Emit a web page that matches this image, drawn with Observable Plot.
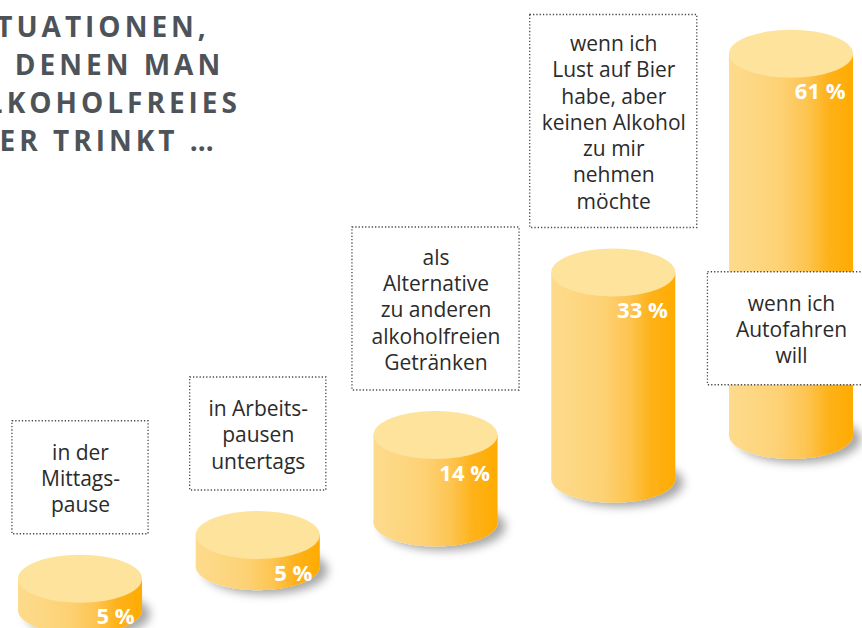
<!DOCTYPE html>
<html><head><meta charset="utf-8">
<script src="https://cdn.jsdelivr.net/npm/d3@7"></script>
<script src="https://cdn.jsdelivr.net/npm/@observablehq/plot@0.6"></script>
<style>
body{margin:0;background:#fff;}
#chart{width:862px;height:628px;overflow:hidden;}
</style></head><body><div id="chart"></div>
<script>
// ---- data ----
const situations = [
  "in der\nMittags-\npause",
  "in Arbeits-\npausen\nuntertags",
  "als\nAlternative\nzu anderen\nalkoholfreien\nGetränken",
  "wenn ich\nLust auf Bier\nhabe, aber\nkeinen Alkohol\nzu mir\nnehmen\nmöchte",
  "wenn ich\nAutofahren\nwill"
];
const shares = [5, 5, 14, 33, 61];
const shareLabels = ["5 %", "5 %", "14 %", "33 %", "61 %"];
const titleLines = ["SITUATIONEN,", "IN DENEN MAN", "ALKOHOLFREIES", "BIER TRINKT …"];

// ---- layout (in scale units) ----
const PX = 6.25;          // pixels per percentage unit
const STEP = 7;           // staircase step of the cylinder bases
const RY = 24 / PX;       // ellipse half height
const HALF = 0.349;       // half cylinder width (index units)
const YMAX = 98;

const rows = shares.map((v, i) => {
  const base = i * STEP, top = base + v;
  const lines = situations[i].split("\n").length;
  const bh = (38 + 25 * lines) / PX;
  const bw = i < 2 ? 0.383 : 0.47;
  let boxLow = top + RY + 21 / PX, boxHigh = boxLow + bh;
  if (boxHigh > YMAX) { const c = base + 0.28 * v; boxLow = c - bh / 2; boxHigh = c + bh / 2; }
  return {i, v, label: shareLabels[i], text: situations[i], base, top, boxLow, boxHigh, bw, mid: (boxLow + boxHigh) / 2};
});

const chart = Plot.plot({
  width: 862, height: 628, margin: 0,
  x: {domain: [0, 4], range: [80, 791], axis: null},
  y: {domain: [0, YMAX], range: [610, 610 - YMAX * PX], axis: null},
  style: {fontFamily: "'Open Sans', sans-serif", background: "white", overflow: "hidden"},
  marks: [
    Plot.text([titleLines.join("\n")], {frameAnchor: "top-left", text: d => d, dx: -37, dy: 9,
      textAnchor: "start", lineAnchor: "top", lineHeight: 1.36, fontSize: 28, fontWeight: 700,
      fill: "#4d5359"}),
    Plot.rect(rows, {x1: d => d.i - HALF, x2: d => d.i + HALF, y1: d => d.base - RY, y2: d => d.base + RY,
      rx: 62, ry: 24, fill: "url(#cylSide)"}),
    Plot.rect(rows, {x1: d => d.i - HALF, x2: d => d.i + HALF, y1: "base", y2: "top", fill: "url(#cylSide)"}),
    Plot.rect(rows, {x1: d => d.i - HALF, x2: d => d.i + HALF, y1: d => d.top - RY, y2: d => d.top + RY,
      rx: 62, ry: 24, fill: "#fee39d"}),
    Plot.text(rows, {x: d => d.i + 0.304, y: "top", dy: 38, text: "label", textAnchor: "end",
      fill: "white", fontWeight: 700, fontSize: 22}),
    Plot.rect(rows, {x1: d => d.i - d.bw, x2: d => d.i + d.bw, y1: "boxLow", y2: "boxHigh",
      fill: "white", stroke: "#4a4a4a", strokeWidth: 1.3, strokeDasharray: "1.3 2"}),
    Plot.text(rows, {x: "i", y: "mid", text: "text", lineHeight: 1.25, fontSize: 21, fill: "#2b2b2b"})
  ]
});

const svg = d3.select(chart);
const defs = svg.insert("defs", ":first-child");
const g = defs.append("linearGradient").attr("id", "cylSide").attr("x1", 0).attr("x2", 1).attr("y1", 0).attr("y2", 0);
[[0, "#fddb8d"], [0.4, "#fdd276"], [0.62, "#fdc552"], [0.8, "#feb21a"], [1, "#ffab00"]]
  .forEach(([o, c]) => g.append("stop").attr("offset", o).attr("stop-color", c));
const f = defs.append("filter").attr("id", "cylShadow").attr("x", "-30%").attr("y", "-50%").attr("width", "170%").attr("height", "220%");
f.append("feDropShadow").attr("dx", 8).attr("dy", 4).attr("stdDeviation", 5)
  .attr("flood-color", "#000").attr("flood-opacity", 0.35);
const rectGroups = svg.selectAll('g[aria-label="rect"]').nodes();
if (rectGroups.length) d3.select(rectGroups[0]).attr("filter", "url(#cylShadow)");
const textGroups = svg.selectAll('g[aria-label="text"]').nodes();
if (textGroups.length) d3.select(textGroups[0]).style("letter-spacing", "4px");
document.getElementById("chart").appendChild(chart);
</script></body></html>
